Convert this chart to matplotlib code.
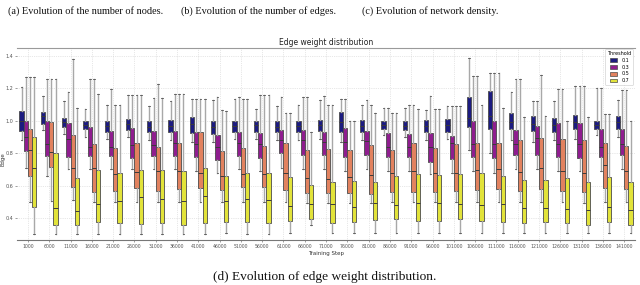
import numpy as np
import matplotlib.pyplot as plt
from matplotlib.patches import Patch

##########################
# Data
##########################

steps = [1000 + 5000 * k for k in range(29)]
step_labels = [str(s) for s in steps]
thresholds = ['0.1', '0.3', '0.5', '0.7']

# threshold 0.1
q1_01 = [0.94, 0.98, 0.96, 0.95, 0.934, 0.944, 0.928, 0.928, 0.924, 0.92, 0.934, 0.934, 0.928, 0.93, 0.938,
         0.934, 0.928, 0.949, 0.944, 0.928, 0.934, 0.959, 0.949, 0.949, 0.938, 0.934, 0.949, 0.949, 0.949]
med_01 = [1.0, 1.03, 0.99, 0.975, 0.97, 0.98, 0.96, 0.97, 0.98, 0.96, 0.97, 0.975, 0.96, 0.965, 0.975,
          0.99, 0.97, 0.975, 0.97, 0.965, 0.975, 1.02, 1.03, 0.995, 0.98, 0.975, 0.99, 0.975, 0.99]
q3_01 = [1.062, 1.057, 1.02, 1.0, 1.0, 1.01, 0.996, 1.006, 1.023, 1.0, 1.0, 0.996, 0.996, 0.996, 1.006,
         1.053, 1.006, 1.0, 0.996, 1.006, 1.01, 1.146, 1.187, 1.051, 1.027, 1.016, 1.037, 1.0, 1.031]
lo_01 = [0.88, 0.945, 0.92, 0.90, 0.89, 0.90, 0.88, 0.88, 0.87, 0.87, 0.89, 0.89, 0.88, 0.88, 0.89,
         0.87, 0.88, 0.91, 0.90, 0.88, 0.89, 0.82, 0.80, 0.88, 0.87, 0.88, 0.89, 0.91, 0.90]
hi_01 = [1.21, 1.155, 1.12, 1.074, 1.095, 1.16, 1.09, 1.125, 1.134, 1.13, 1.134, 1.072, 1.093, 1.097, 1.13,
         1.134, 1.10, 1.082, 1.08, 1.068, 1.09, 1.39, 1.294, 1.175, 1.12, 1.125, 1.212, 1.20, 1.13]

# threshold 0.3
q1_03 = [0.815, 0.786, 0.776, 0.784, 0.782, 0.77, 0.784, 0.78, 0.776, 0.76, 0.786, 0.77, 0.80, 0.79, 0.79,
         0.776, 0.79, 0.776, 0.774, 0.749, 0.763, 0.776, 0.77, 0.79, 0.79, 0.776, 0.77, 0.776, 0.79]
med_03 = [0.90, 0.86, 0.89, 0.84, 0.84, 0.85, 0.85, 0.866, 0.858, 0.84, 0.862, 0.86, 0.883, 0.883, 0.872,
          0.87, 0.876, 0.84, 0.84, 0.837, 0.862, 0.86, 0.856, 0.86, 0.893, 0.86, 0.86, 0.837, 0.856]
q3_03 = [1.0, 1.0, 0.985, 0.96, 0.94, 0.955, 0.938, 0.94, 0.932, 0.914, 0.932, 0.924, 0.944, 0.944, 0.934,
         0.955, 0.938, 0.924, 0.918, 0.924, 0.907, 1.0, 1.0, 0.944, 0.969, 0.986, 0.986, 0.949, 0.949]
lo_03 = [0.71, 0.66, 0.70, 0.70, 0.70, 0.70, 0.70, 0.70, 0.69, 0.68, 0.70, 0.69, 0.71, 0.70, 0.70,
         0.69, 0.70, 0.69, 0.69, 0.67, 0.68, 0.69, 0.68, 0.70, 0.70, 0.69, 0.69, 0.69, 0.70]
hi_03 = [1.27, 1.257, 1.177, 1.26, 1.195, 1.16, 1.14, 1.165, 1.134, 1.15, 1.144, 1.16, 1.144, 1.146, 1.156,
         1.134, 1.13, 1.082, 1.10, 1.154, 1.09, 1.274, 1.294, 1.26, 1.12, 1.195, 1.212, 1.20, 1.19]

# threshold 0.5
q1_05 = [0.66, 0.714, 0.59, 0.563, 0.57, 0.584, 0.568, 0.58, 0.584, 0.574, 0.594, 0.59, 0.574, 0.557, 0.557,
         0.557, 0.549, 0.563, 0.56, 0.559, 0.57, 0.574, 0.578, 0.568, 0.578, 0.57, 0.563, 0.588, 0.578]
med_05 = [0.82, 0.81, 0.71, 0.71, 0.673, 0.683, 0.69, 0.69, 0.68, 0.662, 0.673, 0.67, 0.68, 0.65, 0.64,
          0.656, 0.666, 0.677, 0.69, 0.677, 0.681, 0.697, 0.701, 0.683, 0.708, 0.693, 0.677, 0.728, 0.693]
q3_05 = [0.95, 0.99, 0.915, 0.858, 0.83, 0.862, 0.837, 0.864, 0.928, 0.815, 0.835, 0.842, 0.862, 0.821, 0.827,
         0.821, 0.852, 0.821, 0.866, 0.831, 0.856, 0.862, 0.862, 0.883, 0.893, 0.887, 0.879, 0.866, 0.842]
lo_05 = [0.50, 0.505, 0.51, 0.50, 0.50, 0.50, 0.50, 0.50, 0.50, 0.50, 0.50, 0.50, 0.50, 0.49, 0.49,
         0.49, 0.49, 0.50, 0.50, 0.50, 0.50, 0.50, 0.50, 0.50, 0.50, 0.50, 0.49, 0.50, 0.50]
hi_05 = [1.27, 1.257, 1.38, 1.26, 1.095, 1.16, 1.23, 1.165, 1.134, 1.064, 1.134, 1.16, 1.047, 1.146, 1.10,
         0.996, 1.10, 1.05, 1.10, 1.07, 1.09, 1.274, 1.294, 1.26, 1.284, 1.195, 1.212, 1.043, 1.19]

# threshold 0.7
q1_07 = [0.467, 0.358, 0.36, 0.378, 0.368, 0.364, 0.372, 0.358, 0.372, 0.374, 0.374, 0.372, 0.384, 0.393, 0.372,
         0.374, 0.389, 0.395, 0.38, 0.384, 0.393, 0.382, 0.378, 0.372, 0.374, 0.368, 0.358, 0.378, 0.358]
med_07 = [0.71, 0.46, 0.445, 0.487, 0.506, 0.529, 0.516, 0.508, 0.537, 0.508, 0.516, 0.512, 0.477, 0.487, 0.485,
          0.471, 0.491, 0.481, 0.49, 0.496, 0.487, 0.481, 0.485, 0.461, 0.461, 0.454, 0.45, 0.467, 0.45]
q3_07 = [0.90, 0.80, 0.65, 0.695, 0.677, 0.695, 0.695, 0.689, 0.708, 0.662, 0.681, 0.681, 0.652, 0.605, 0.625,
         0.629, 0.625, 0.662, 0.67, 0.666, 0.67, 0.677, 0.66, 0.635, 0.635, 0.646, 0.625, 0.652, 0.625]
lo_07 = [0.30, 0.30, 0.30, 0.30, 0.30, 0.30, 0.30, 0.30, 0.30, 0.31, 0.30, 0.30, 0.31, 0.36, 0.31,
         0.31, 0.31, 0.31, 0.31, 0.31, 0.31, 0.31, 0.31, 0.31, 0.31, 0.31, 0.31, 0.31, 0.31]
hi_07 = [1.27, 1.257, 1.08, 1.165, 1.095, 1.16, 1.14, 1.165, 1.134, 1.06, 1.134, 1.16, 1.05, 0.93, 1.10,
         1.0, 1.05, 1.05, 1.07, 1.07, 1.09, 1.097, 1.078, 1.023, 1.027, 1.0, 1.023, 1.04, 1.0]

##########################
# Figure
##########################

colors = ['#1c1b80', '#8f1d8f', '#e2825f', '#e2e33a']
offsets = [-0.3, -0.1, 0.1, 0.3]
series = [(q1_01, med_01, q3_01, lo_01, hi_01),
          (q1_03, med_03, q3_03, lo_03, hi_03),
          (q1_05, med_05, q3_05, lo_05, hi_05),
          (q1_07, med_07, q3_07, lo_07, hi_07)]

fig = plt.figure(figsize=(6.4, 2.85), dpi=100)
ax = fig.add_axes([0.027, 0.158, 0.965, 0.674])

for j, (q1, med, q3, lo, hi) in enumerate(series):
    stats = []
    for i in range(len(steps)):
        stats.append({'q1': q1[i], 'med': med[i], 'q3': q3[i],
                      'whislo': lo[i], 'whishi': hi[i], 'fliers': []})
    pos = np.arange(len(steps)) + offsets[j]
    ax.bxp(stats, positions=pos, widths=0.2, patch_artist=True,
           showfliers=False, capwidths=0.08,
           boxprops=dict(facecolor=colors[j], edgecolor='#4a4a4a', linewidth=0.6),
           medianprops=dict(color='#3a3a3a', linewidth=0.7),
           whiskerprops=dict(color='#a8a8a8', linewidth=1.0),
           capprops=dict(color='#555555', linewidth=0.6))

ax.set_xlim(-0.5, len(steps) - 0.5)
ax.set_ylim(0.265, 1.45)
ax.set_xticks(np.arange(len(steps)))
ax.set_xticklabels(step_labels, fontsize=3.3, color='#333333')
ax.set_yticks([0.4, 0.6, 0.8, 1.0, 1.2, 1.4])
ax.set_yticklabels(['0.4', '0.6', '0.8', '1.0', '1.2', '1.4'], fontsize=3.5, color='#333333')
ax.tick_params(axis='both', length=1.5, width=0.4, pad=1.5, colors='#555555')
ax.grid(True, linestyle=':', linewidth=0.5, color='#d0d0d0')
ax.set_axisbelow(True)

for s in ['left', 'right']:
    ax.spines[s].set_visible(False)
ax.spines['top'].set_color('#9a9a9a')
ax.spines['bottom'].set_color('#777777')
ax.spines['top'].set_linewidth(0.8)
ax.spines['bottom'].set_linewidth(0.8)

ax.set_title('Edge weight distribution', fontsize=5.5, pad=2, color='#222222')
ax.set_xlabel('Training Step', fontsize=4, labelpad=1.5, color='#333333')
ax.set_ylabel('Edge', fontsize=4, color='#333333')
ax.yaxis.set_label_coords(-0.019, 0.42)

handles = [Patch(facecolor=colors[k], edgecolor='#4a4a4a', linewidth=0.5, label=thresholds[k])
           for k in range(4)]
lgd = ax.legend(handles=handles, title='Threshold', loc='upper right', fontsize=3.5,
                title_fontsize=3.5, frameon=True, handlelength=1.6, handleheight=0.8,
                borderpad=0.4, labelspacing=0.35, borderaxespad=0.3)
lgd.get_frame().set_linewidth(0.4)
lgd.get_frame().set_edgecolor('#bbbbbb')

# sub-figure captions
cap = dict(family='Liberation Serif', color='#111111', va='center')
fig.text(8 / 640, 1 - 11 / 285, '(a) Evolution of the number of nodes.', fontsize=7.4, ha='left', **cap)
fig.text(181 / 640, 1 - 11 / 285, '(b) Evolution of the number of edges.', fontsize=7.4, ha='left', **cap)
fig.text(362 / 640, 1 - 11 / 285, '(c) Evolution of network density.', fontsize=7.4, ha='left', **cap)
fig.text(325 / 640, 1 - 277 / 285, '(d) Evolution of edge weight distribution.', fontsize=9.6,
         ha='center', **cap)

plt.savefig('out.png', dpi=100)
plt.close()
